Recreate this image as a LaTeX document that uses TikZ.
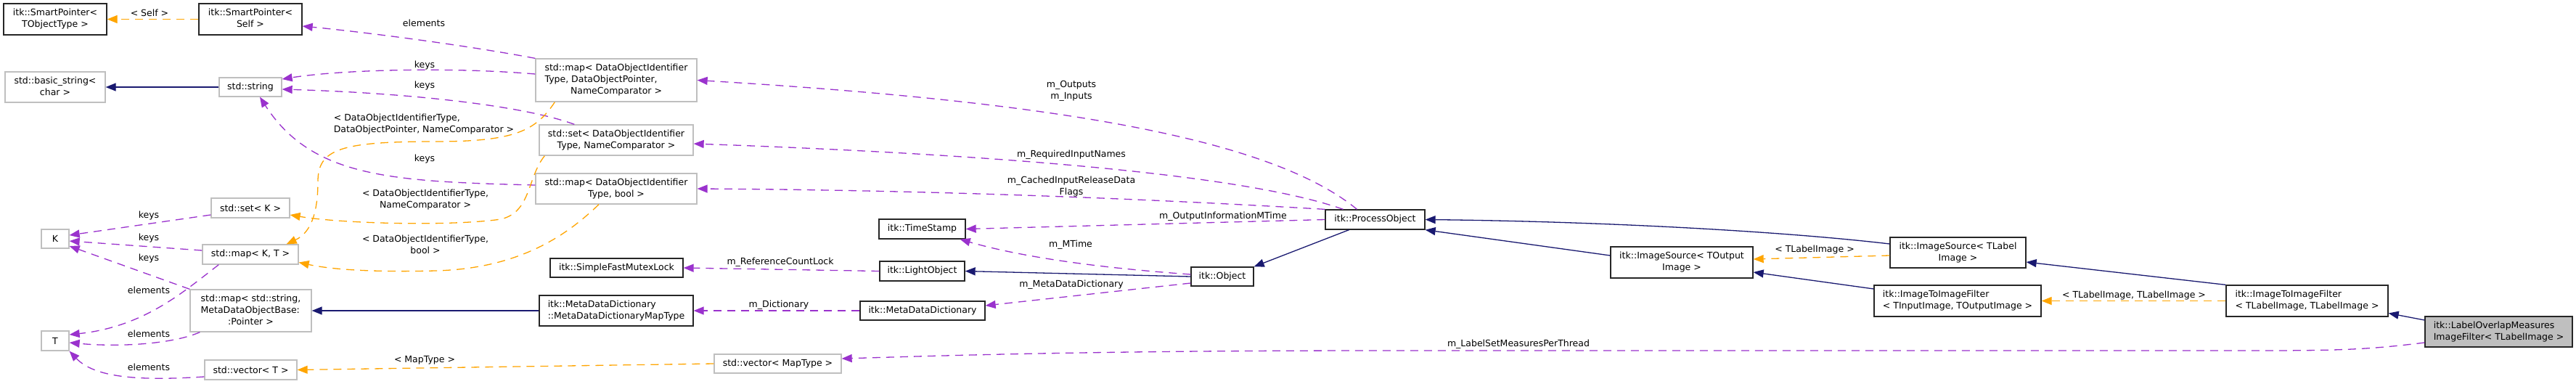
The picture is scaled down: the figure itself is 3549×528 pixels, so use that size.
\documentclass[tikz,border=0pt]{standalone}
\usepackage{fontspec}
\setmainfont{DejaVu Sans}
\usetikzlibrary{arrows.meta,calc}
\definecolor{pur}{HTML}{9A32CD}
\definecolor{org}{HTML}{FFA500}
\definecolor{nav}{HTML}{191970}
\definecolor{gry}{HTML}{BFBFBF}
\newcommand{\twol}[2]{\begin{tabular}{@{}l@{}}#1\\\multicolumn{1}{@{}c@{}}{#2}\end{tabular}}
\newcommand{\threel}[3]{\begin{tabular}{@{}l@{}}#1\\#2\\\multicolumn{1}{@{}c@{}}{#3}\end{tabular}}
\begin{document}
\begin{tikzpicture}[x=1pt,y=-1pt,font=\fontsize{12.5}{16}\selectfont,
  bbox/.style={draw=black!85,line width=1.3pt,inner sep=0pt,fill=white},
  gbox/.style={draw=gry,line width=1.3pt,inner sep=0pt,fill=white},
  ed/.style={line width=1.3pt,-{Triangle[length=14pt,width=11pt]}},
  pe/.style={ed,draw=pur,dash pattern=on 11pt off 8pt},
  oe/.style={ed,draw=org,dash pattern=on 11pt off 8pt},
  ne/.style={ed,draw=nav},
  lab/.style={align=center,inner sep=0pt}]
\fill[white] (0,0) rectangle (3549,528);
\useasboundingbox (0,0) rectangle (3549,528);
% nodes
\node[bbox,minimum width=142pt,minimum height=43pt] (spT) at (76,26.5) {\twol{itk::SmartPointer<}{TObjectType >}};
\node[bbox,minimum width=142pt,minimum height=43pt] (spS) at (345,26.5) {\twol{itk::SmartPointer<}{Self >}};
\node[gbox,minimum width=138pt,minimum height=42pt] (bstr) at (76,120) {\twol{std::basic\_string<}{char >}};
\node[gbox,minimum width=86pt,minimum height=26pt] (str) at (345,120) {std::string};
\node[gbox,minimum width=222pt,minimum height=59pt] (mapDOP) at (849,110.5) {\threel{std::map< DataObjectIdentifier}{Type, DataObjectPointer,}{NameComparator >}};
\node[gbox,minimum width=212pt,minimum height=42pt] (setDOI) at (849,193) {\twol{std::set< DataObjectIdentifier}{Type, NameComparator >}};
\node[gbox,minimum width=222pt,minimum height=42pt] (mapBool) at (849,260) {\twol{std::map< DataObjectIdentifier}{Type, bool >}};
\node[gbox,minimum width=108pt,minimum height=27pt] (setK) at (345,286.5) {std::set< K >};
\node[gbox,minimum width=38pt,minimum height=26pt] (K) at (76,329) {K};
\node[gbox,minimum width=132pt,minimum height=27pt] (mapKT) at (345,350.5) {std::map< K, T >};
\node[gbox,minimum width=167pt,minimum height=58pt] (mapStr) at (345.5,428) {\threel{std::map< std::string,}{MetaDataObjectBase:}{:Pointer >}};
\node[gbox,minimum width=38pt,minimum height=27pt] (T) at (76,469.5) {T};
\node[gbox,minimum width=127pt,minimum height=27pt] (vecT) at (345.5,509.5) {std::vector< T >};
\node[bbox,minimum width=183pt,minimum height=26pt] (mutex) at (849.5,369) {itk::SimpleFastMutexLock};
\node[bbox,minimum width=212pt,minimum height=42pt] (mddMap) at (849,428) {\twol{itk::MetaDataDictionary}{::MetaDataDictionaryMapType}};
\node[gbox,minimum width=175pt,minimum height=26pt] (vecMap) at (1071.5,501) {std::vector< MapType >};
\node[bbox,minimum width=119pt,minimum height=27pt] (ts) at (1270.5,315.5) {itk::TimeStamp};
\node[bbox,minimum width=117pt,minimum height=27pt] (light) at (1270.5,373.5) {itk::LightObject};
\node[bbox,minimum width=172pt,minimum height=26pt] (mdd) at (1271,428) {itk::MetaDataDictionary};
\node[bbox,minimum width=86pt,minimum height=26pt] (obj) at (1684,381) {itk::Object};
\node[bbox,minimum width=137pt,minimum height=27pt] (proc) at (1894.5,302.5) {itk::ProcessObject};
\node[bbox,minimum width=196pt,minimum height=43pt] (isOut) at (2317,361.5) {\twol{itk::ImageSource< TOutput}{Image >}};
\node[bbox,minimum width=187pt,minimum height=42pt] (isLab) at (2697.5,348) {\twol{itk::ImageSource< TLabel}{Image >}};
\node[bbox,minimum width=230pt,minimum height=43pt] (itIO) at (2697,414.5) {\twol{itk::ImageToImageFilter}{< TInputImage, TOutputImage >}};
\node[bbox,minimum width=223pt,minimum height=43pt] (itLL) at (3178.5,414.5) {\twol{itk::ImageToImageFilter}{< TLabelImage, TLabelImage >}};
\node[bbox,fill=gry,minimum width=203pt,minimum height=42pt] (lom) at (3442.5,457) {\twol{itk::LabelOverlapMeasures}{ImageFilter< TLabelImage >}};
% edges
\draw[oe] (spS.west) -- (spT.east);
\node[lab] (l1) at (206,18) {< Self >};
\draw[pe] (mapDOP.north west) .. controls (640,62) and (500,44) .. ($(spS.east)+(0,9.5)$);
\node[lab] (l2) at (584,32) {elements};
\draw[ne] (str.west) -- (bstr.east);
\draw[pe] ($(mapDOP.west)+(0,-8.5)$) .. controls (620,92) and (470,96) .. ($(str.east)+(0,-11)$);
\node[lab] (l3) at (585,90) {keys};
\draw[pe] ($(setDOI.north west)+(49,0)$) .. controls (720,145) and (560,128) .. ($(str.east)+(0,3)$);
\node[lab] (l4) at (585,118) {keys};
\draw[pe] ($(mapBool.west)+(0,-5)$) .. controls (540,250) and (430,245) .. ($(str.south)+(13,0)$);
\node[lab] (l5) at (585,219) {keys};
\draw[oe] ($(setDOI.south west)+(8,0)$) .. controls (726,245) and (732,292) .. (690,302) .. controls (620,312) and (470,308) .. ($(setK.east)+(0,9.5)$);
\node[lab] (l6) at (586,275) {< DataObjectIdentifierType,\\NameComparator >};
\draw[oe] ($(mapDOP.south west)+(27,0)$) .. controls (738,180) and (710,195) .. (600,195) .. controls (470,195) and (438,205) .. (438,250) .. controls (438,300) and (425,322) .. ($(mapKT.north east)+(-17,0)$);
\node[lab,align=left] (l7) at (584,171) {< DataObjectIdentifierType,\\DataObjectPointer, NameComparator >};
\draw[oe] ($(mapBool.south)+(-24,0)$) .. controls (785,320) and (720,370) .. (600,373) .. controls (520,375) and (460,372) .. ($(mapKT.east)+(0,11)$);
\node[lab] (l8) at (586,337) {< DataObjectIdentifierType,\\bool >};
\draw[pe] ($(setK.west)+(0,9.5)$) -- ($(K.east)+(0,-5)$);
\node[lab] (l9) at (205,297) {keys};
\draw[pe] ($(mapKT.west)+(0,-5.5)$) -- ($(K.east)+(0,3)$);
\node[lab] (l10) at (205,328) {keys};
\draw[pe] (mapStr.north west) -- ($(K.east)+(0,10)$);
\node[lab] (l11) at (205,356) {keys};
\draw[pe] ($(mapKT.south west)+(23,0)$) .. controls (255,400) and (200,450) .. ($(T.east)+(0,-8.5)$);
\node[lab] (l12) at (205,400) {elements};
\draw[pe] ($(mapStr.south west)+(14,0)$) .. controls (235,475) and (160,478) .. ($(T.east)+(0,2.5)$);
\node[lab] (l13) at (205,460) {elements};
\draw[pe] ($(vecT.west)+(0,9.5)$) .. controls (190,525) and (130,520) .. (T.south east);
\node[lab] (l14) at (205,506) {elements};
\draw[ne] (mddMap.west) -- (mapStr.east);
\draw[pe] (light.west) -- (mutex.east);
\node[lab] (l15) at (1075,361) {m\_ReferenceCountLock};
\draw[pe] (mdd.west) -- (mddMap.east);
\node[lab] (l16) at (1073,420) {m\_Dictionary};
\draw[oe] (vecMap.west) -- (vecT.east);
\node[lab] (l17) at (585,496) {< MapType >};
\draw[pe] ($(lom.west)+(0,15)$) .. controls (3260,482) and (3220,483) .. (3100,483) -- (1900,483) .. controls (1500,483) and (1300,490) .. ($(vecMap.east)+(0,-7)$);
\node[lab] (l18) at (2092,474) {m\_LabelSetMeasuresPerThread};
\draw[pe] ($(proc.north)+(-25,0)$) .. controls (1750,190) and (1450,140) .. (mapDOP.east);
\node[lab] (l19) at (1476,125) {m\_Outputs\\m\_Inputs};
\draw[pe] ($(proc.north)+(-44,0)$) .. controls (1700,235) and (1300,210) .. ($(setDOI.east)+(0,5)$);
\node[lab] (l20) at (1476,213) {m\_RequiredInputNames};
\draw[pe] (proc.north west) .. controls (1600,275) and (1300,262) .. (mapBool.east);
\node[lab] (l21) at (1476,257) {m\_CachedInputReleaseData\\Flags};
\draw[pe] (proc.west) -- (ts.east);
\node[lab] (l22) at (1685,298) {m\_OutputInformationMTime};
\draw[pe] ($(obj.west)+(0,-3)$) .. controls (1500,368) and (1400,352) .. ($(ts.south east)+(-8,0)$);
\node[lab] (l23) at (1475,337) {m\_MTime};
\draw[ne] (obj.west) -- (light.east);
\draw[pe] ($(obj.west)+(0,9)$) -- ($(mdd.east)+(0,-7)$);
\node[lab] (l24) at (1476,392) {m\_MetaDataDictionary};
\draw[ne] ($(proc.south)+(-36,0)$) -- (obj.north east);
\draw[ne] ($(isLab.west)+(0,-12)$) .. controls (2450,318) and (2200,305) .. (proc.east);
\draw[ne] ($(isOut.west)+(0,-9.5)$) -- (proc.south east);
\draw[oe] ($(isLab.west)+(0,4)$) -- ($(isOut.east)+(0,-4.5)$);
\node[lab] (l25) at (2500,344) {< TLabelImage >};
\draw[ne] ($(itIO.west)+(0,-16.5)$) -- ($(isOut.east)+(0,13.5)$);
\draw[ne] (itLL.north west) -- ($(isLab.east)+(0,13)$);
\draw[oe] (itLL.west) -- (itIO.east);
\node[lab] (l26) at (2940,407) {< TLabelImage, TLabelImage >};
\draw[ne] ($(lom.west)+(0,-16)$) -- ($(itLL.east)+(0,17)$);
\end{tikzpicture}
\end{document}
